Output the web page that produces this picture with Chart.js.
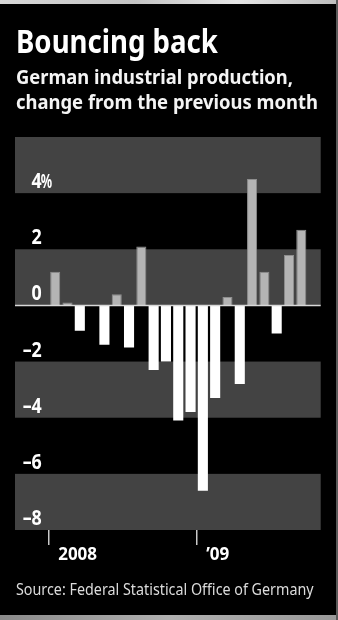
<!DOCTYPE html>
<html>
<head>
<meta charset="utf-8">
<script src="https://cdn.jsdelivr.net/npm/chart.js@4.4.1/dist/chart.umd.min.js"></script>
<style>
  html, body { margin: 0; padding: 0; background: #000; }
  body { width: 338px; height: 620px; position: relative; overflow: hidden; font-family: "Noto Sans", "Open Sans", sans-serif; }
  #wrap { position: absolute; left: 0; top: 0; width: 338px; height: 620px; }
  .txt { position: absolute; left: 15.7px; white-space: nowrap; transform-origin: 0 50%; }
  #title { font-size: 32px; line-height: 32px; font-weight: 700; color: #fff; top: 24.9px; }
  .sub { font-size: 19px; line-height: 19px; font-weight: 700; color: #f4f4f4; }
  #sub1 { top: 68.1px; }
  #sub2 { top: 93.1px; }
  #source { font-size: 16.5px; line-height: 16.5px; font-weight: 400; color: #dcdcdc; top: 581.3px; }
  #topstrip { position: absolute; left: 0; top: 0; width: 338px; height: 4px; background: linear-gradient(90deg, #d8d8d8, #c4c4c4 40%, #e6e6e6 70%, #bdbdbd); }
  #botstrip { position: absolute; left: 0; bottom: 0; width: 338px; height: 5px; background: linear-gradient(90deg, #8a8a8a, #b0b0b0 50%, #999); }
  #rightstrip { position: absolute; right: 0; top: 0; width: 2px; height: 620px; background: #5a5a5a; }
</style>
</head>
<body>
<div id="wrap"><canvas id="c"></canvas></div>
<div id="topstrip"></div>
<div id="botstrip"></div>
<div id="rightstrip"></div>
<div class="txt" id="title" data-w="202">Bouncing back</div>
<div class="txt sub" id="sub1" data-w="277">German industrial production,</div>
<div class="txt sub" id="sub2" data-w="302">change from the previous month</div>
<div class="txt" id="source" data-w="297.6">Source: Federal Statistical Office of Germany</div>
<script>
// ---- data ----
const categories = ['Jan 2008','Feb 2008','Mar 2008','Apr 2008','May 2008','Jun 2008','Jul 2008','Aug 2008','Sep 2008','Oct 2008','Nov 2008','Dec 2008',
                    'Jan 2009','Feb 2009','Mar 2009','Apr 2009','May 2009','Jun 2009','Jul 2009','Aug 2009','Sep 2009'];
const changePct = [1.2, 0.1, -0.9, 0, -1.4, 0.4, -1.5, 2.1, -2.3, -2.0, -4.1, -3.8,
                   -6.6, -3.3, 0.3, -2.8, 4.5, 1.2, -1.0, 1.8, 2.7];
const yTickValues = [4, 2, 0, -2, -4, -6, -8];
const yTickLabels = ['4%', '2', '0', '\u20132', '\u20134', '\u20136', '\u20138'];
const xTickIndex = [0, 12];
const xTickLabels = ['2008', '\u201909'];
const yMin = -8, yMax = 6;
const bandRanges = [[4, 6], [0, 2], [-4, -2], [-8, -6]];

// ---- text fitting ----
function fitText() {
  document.querySelectorAll('.txt').forEach(el => {
    el.style.transform = 'none';
    const w = el.getBoundingClientRect().width;
    const target = parseFloat(el.dataset.w);
    el.style.transform = 'scaleX(' + (target / w) + ')';
  });
}

const BAND_L = 15, BAND_R = 320.7;

const decorPlugin = {
  id: 'decor',
  beforeDatasetsDraw(chart) {
    const ctx = chart.ctx, y = chart.scales.y, x = chart.scales.x;
    ctx.save();
    ctx.fillStyle = '#434343';
    bandRanges.forEach(([a, b]) => {
      const top = y.getPixelForValue(b), bot = y.getPixelForValue(a);
      ctx.fillRect(BAND_L, top, BAND_R - BAND_L, bot - top);
    });
    // y labels
    ctx.fillStyle = '#fff';
    ctx.font = 'bold 21px "Noto Sans"';
    ctx.textBaseline = 'alphabetic';
    yTickValues.forEach((v, i) => {
      const py = y.getPixelForValue(v) - 5;
      let lab = yTickLabels[i], suffix = '';
      if (lab.endsWith('%')) { suffix = '%'; lab = lab.slice(0, -1); }
      ctx.save();
      ctx.translate(41.8, py);
      ctx.scale(0.85, 1);
      ctx.textAlign = 'right';
      ctx.fillText(lab, 0, 0);
      if (suffix) {
        ctx.restore();
        ctx.save();
        ctx.translate(40.8, py);
        ctx.scale(0.6, 0.95);
        ctx.textAlign = 'left';
        ctx.fillText(suffix, 0, 0);
      }
      ctx.restore();
    });
    // x ticks & labels
    const catW = (chart.chartArea.right - chart.chartArea.left) / categories.length;
    ctx.strokeStyle = '#c8c8c8';
    ctx.lineWidth = 1.5;
    ctx.font = 'bold 18.5px "Noto Sans"';
    ctx.textAlign = 'left';
    xTickIndex.forEach((idx, i) => {
      const px = Math.round(x.getPixelForValue(idx) - catW / 2) - 0.25;
      ctx.beginPath();
      ctx.moveTo(px, y.getPixelForValue(yMin));
      ctx.lineTo(px, y.getPixelForValue(yMin) + 15);
      ctx.stroke();
      ctx.save();
      ctx.translate(px + 9.4, 560);
      ctx.scale(0.92, 1);
      ctx.fillText(xTickLabels[i], 0, 0);
      ctx.restore();
    });
    ctx.restore();
  },
  afterDatasetsDraw(chart) {
    const ctx = chart.ctx, y = chart.scales.y;
    const py = y.getPixelForValue(0);
    ctx.save();
    ctx.strokeStyle = '#d8d8d8';
    ctx.lineWidth = 1.5;
    ctx.beginPath();
    ctx.moveTo(BAND_L, py);
    ctx.lineTo(BAND_R, py);
    ctx.stroke();
    ctx.restore();
  }
};

function draw() {
  fitText();
  new Chart(document.getElementById('c'), {
    type: 'bar',
    data: {
      labels: categories,
      datasets: [{
        data: changePct,
        backgroundColor: changePct.map(v => v >= 0 ? '#b4b4b4' : '#ffffff'),
        borderColor: changePct.map(v => v >= 0 ? '#8e8e8e' : '#ffffff'),
        borderWidth: changePct.map(v => v >= 0 ? 1 : 0),
        borderSkipped: 'bottom',
        barPercentage: 0.82,
        categoryPercentage: 1.0
      }]
    },
    options: {
      responsive: true,
      maintainAspectRatio: false,
      animation: false,
      layout: { padding: { left: 49.05, right: 30.55, top: 137, bottom: 90 } },
      plugins: { legend: { display: false }, tooltip: { enabled: false } },
      scales: {
        x: { display: false, offset: true },
        y: { display: false, min: yMin, max: yMax }
      }
    },
    plugins: [decorPlugin]
  });
}
if (document.fonts && document.fonts.ready) {
  document.fonts.load('bold 18px "Noto Sans"').then(() => document.fonts.ready).then(draw, draw);
} else { draw(); }
</script>
</body>
</html>
